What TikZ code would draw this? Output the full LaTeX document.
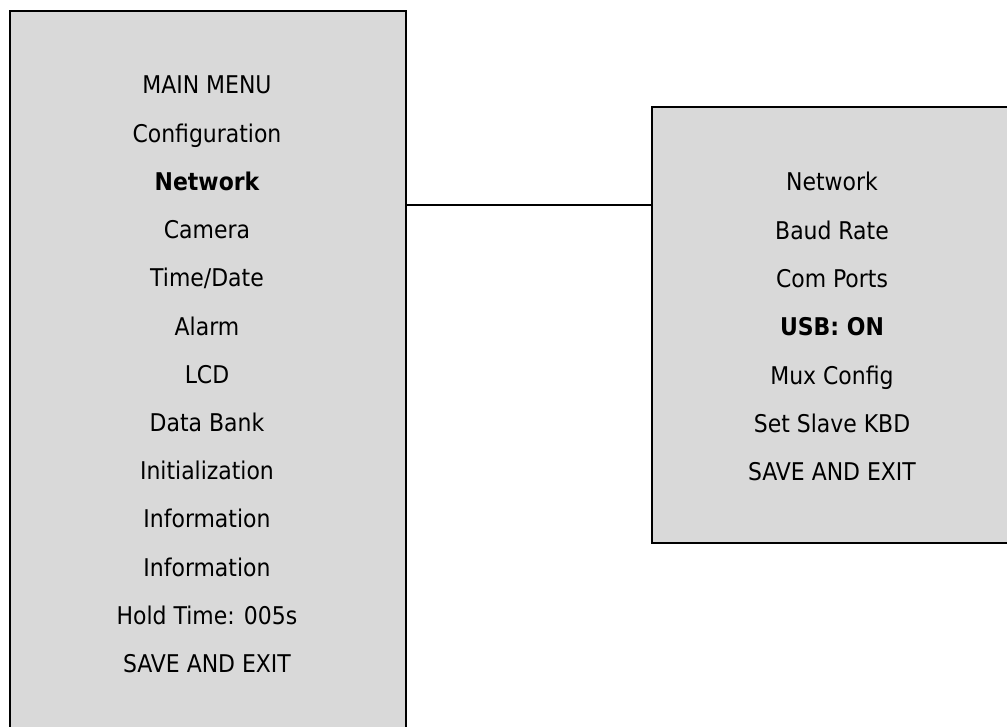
\documentclass[tikz,border=0pt]{standalone}
\usepackage{fontspec}
\setmainfont{DejaVu Sans Condensed}
\definecolor{panelgray}{HTML}{D9D9D9}
\begin{document}
\begin{tikzpicture}[
  x=0.75pt, y=-0.75pt,
  panel/.style={rectangle, draw, line width=1.8pt, fill=panelgray,
    inner sep=0pt, anchor=north west},
  item/.style={anchor=base, inner sep=0pt, font=\fontsize{18.3}{21}\selectfont},
  chosen/.style={item, font=\fontsize{18.3}{21}\selectfont\bfseries},
  link/.style={line width=1.8pt}
]
\clip (0,0) rectangle (1007,727);
% the two menu panels
\node[panel, minimum width=297pt, minimum height=547.5pt] (mainmenu) at (9,10) {};
\node[panel, minimum width=273pt, minimum height=327pt] (netmenu) at (651,106) {};

% main menu entries
\node[item] (mtitle) at (207,94) {MAIN MENU};
\node[item] (mconf) at (207,142.2) {Configuration};
\node[chosen] (mnet) at (207,190.4) {Network};
\node[item] (mcam) at (207,238.6) {Camera};
\node[item] (mtime) at (207,286.8) {Time/Date};
\node[item] (malarm) at (207,335) {Alarm};
\node[item] (mlcd) at (207,383.2) {LCD};
\node[item] (mbank) at (207,431.4) {Data Bank};
\node[item] (minit) at (207,479.6) {Initialization};
\node[item] (minfoa) at (207,527.8) {Information};
\node[item] (minfob) at (207,576) {Information};
\node[item] (mhold) at (207,624.2) {Hold Time: 005s};
\node[item] (msave) at (207,672.4) {SAVE AND EXIT};

% network sub-menu entries
\node[item] (ntitle) at (832,191) {Network};
\node[item] (nbaud) at (832,239.3) {Baud Rate};
\node[item] (ncom) at (832,287.6) {Com Ports};
\node[chosen] (nusb) at (832,335.9) {USB: ON};
\node[item] (nmux) at (832,384.2) {Mux Config};
\node[item] (nslave) at (832,432.5) {Set Slave KBD};
\node[item] (nsave) at (832,480.8) {SAVE AND EXIT};

% connector
\coordinate (tie) at (0,205);
\draw[link] (mainmenu.east |- tie) -- (netmenu.west |- tie);
\end{tikzpicture}
\end{document}
